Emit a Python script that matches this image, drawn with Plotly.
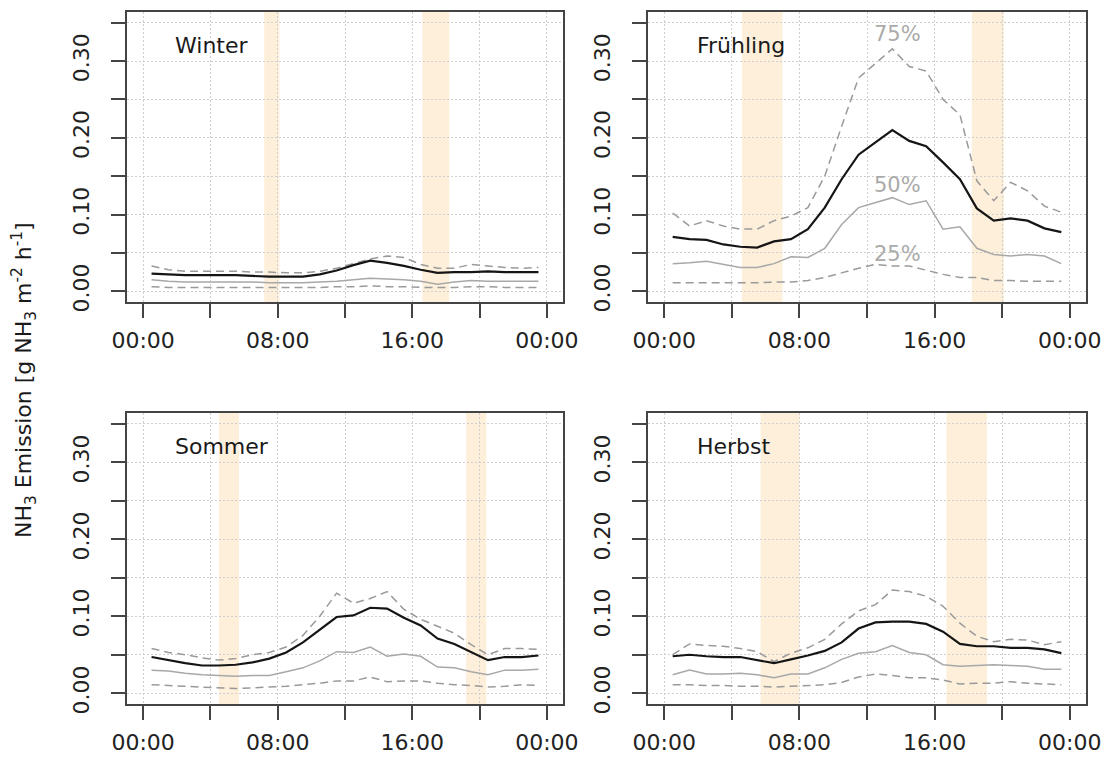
import plotly.graph_objects as go

# Hour of day (centre of each hourly interval)
hours = [0.5, 1.5, 2.5, 3.5, 4.5, 5.5, 6.5, 7.5, 8.5, 9.5, 10.5, 11.5,
         12.5, 13.5, 14.5, 15.5, 16.5, 17.5, 18.5, 19.5, 20.5, 21.5, 22.5, 23.5]

seasons = ["Winter", "Frühling", "Sommer", "Herbst"]

# NH3 emission [g NH3 m-2 h-1]: mean, 25 %, 50 % and 75 % quantiles per hour
winter_mean = [0.023, 0.022, 0.021, 0.021, 0.021, 0.021, 0.020, 0.019, 0.019, 0.019, 0.022, 0.027,
               0.034, 0.040, 0.037, 0.033, 0.028, 0.024, 0.025, 0.025, 0.026, 0.025, 0.025, 0.025]
winter_q50 = [0.015, 0.013, 0.012, 0.012, 0.012, 0.012, 0.012, 0.011, 0.011, 0.011, 0.012, 0.013,
              0.015, 0.017, 0.016, 0.015, 0.013, 0.009, 0.012, 0.014, 0.013, 0.013, 0.013, 0.013]
winter_q75 = [0.033, 0.028, 0.026, 0.026, 0.026, 0.026, 0.025, 0.025, 0.024, 0.024, 0.026, 0.030,
              0.036, 0.042, 0.046, 0.044, 0.035, 0.030, 0.030, 0.035, 0.033, 0.031, 0.030, 0.031]
winter_q25 = [0.006, 0.005, 0.005, 0.005, 0.005, 0.005, 0.005, 0.005, 0.005, 0.005, 0.005, 0.006,
              0.006, 0.007, 0.006, 0.006, 0.005, 0.005, 0.005, 0.006, 0.006, 0.005, 0.005, 0.005]

spring_mean = [0.071, 0.068, 0.067, 0.061, 0.058, 0.057, 0.065, 0.068, 0.081, 0.109, 0.146, 0.178,
               0.194, 0.210, 0.196, 0.189, 0.168, 0.146, 0.108, 0.092, 0.095, 0.092, 0.082, 0.077]
spring_q50 = [0.036, 0.037, 0.039, 0.035, 0.031, 0.031, 0.036, 0.045, 0.044, 0.056, 0.087, 0.109,
              0.115, 0.122, 0.113, 0.118, 0.081, 0.084, 0.056, 0.048, 0.046, 0.048, 0.046, 0.036]
spring_q75 = [0.102, 0.085, 0.092, 0.085, 0.081, 0.081, 0.092, 0.098, 0.109, 0.150, 0.215, 0.278,
              0.297, 0.316, 0.293, 0.287, 0.250, 0.230, 0.144, 0.118, 0.142, 0.131, 0.111, 0.103]
spring_q25 = [0.011, 0.011, 0.011, 0.011, 0.011, 0.011, 0.012, 0.012, 0.014, 0.018, 0.024, 0.030,
              0.035, 0.033, 0.033, 0.028, 0.022, 0.018, 0.018, 0.014, 0.014, 0.013, 0.013, 0.013]

summer_mean = [0.047, 0.043, 0.039, 0.036, 0.036, 0.037, 0.040, 0.045, 0.053, 0.066, 0.083, 0.099,
               0.101, 0.111, 0.110, 0.098, 0.088, 0.071, 0.064, 0.053, 0.043, 0.047, 0.047, 0.049]
summer_q50 = [0.030, 0.029, 0.026, 0.024, 0.023, 0.022, 0.023, 0.023, 0.028, 0.033, 0.042, 0.054,
              0.053, 0.060, 0.048, 0.051, 0.048, 0.034, 0.033, 0.028, 0.024, 0.030, 0.030, 0.031]
summer_q75 = [0.058, 0.053, 0.050, 0.046, 0.043, 0.045, 0.050, 0.053, 0.060, 0.075, 0.100, 0.130,
              0.117, 0.123, 0.132, 0.109, 0.096, 0.087, 0.078, 0.063, 0.050, 0.058, 0.058, 0.057]
summer_q25 = [0.011, 0.010, 0.009, 0.008, 0.007, 0.006, 0.007, 0.008, 0.009, 0.011, 0.013, 0.016,
              0.016, 0.021, 0.015, 0.016, 0.016, 0.013, 0.011, 0.010, 0.008, 0.009, 0.011, 0.010]

autumn_mean = [0.048, 0.050, 0.048, 0.047, 0.047, 0.043, 0.039, 0.044, 0.049, 0.055, 0.066, 0.084,
               0.092, 0.093, 0.093, 0.090, 0.080, 0.064, 0.061, 0.061, 0.059, 0.059, 0.057, 0.052]
autumn_q50 = [0.024, 0.030, 0.025, 0.025, 0.026, 0.024, 0.020, 0.025, 0.025, 0.033, 0.044, 0.052,
              0.054, 0.062, 0.053, 0.050, 0.037, 0.035, 0.036, 0.037, 0.036, 0.035, 0.031, 0.031]
autumn_q75 = [0.050, 0.064, 0.062, 0.061, 0.058, 0.054, 0.041, 0.052, 0.059, 0.070, 0.090, 0.107,
              0.115, 0.134, 0.132, 0.126, 0.113, 0.091, 0.074, 0.067, 0.070, 0.069, 0.063, 0.067]
autumn_q25 = [0.011, 0.011, 0.010, 0.010, 0.009, 0.009, 0.008, 0.009, 0.010, 0.011, 0.014, 0.021,
              0.025, 0.023, 0.020, 0.020, 0.017, 0.012, 0.013, 0.013, 0.015, 0.013, 0.012, 0.011]

# Sunrise / sunset periods (hours) per season
winter_sun = [(7.2, 8.1), (16.6, 18.2)]
spring_sun = [(4.6, 7.0), (18.2, 20.1)]
summer_sun = [(4.5, 5.7), (19.2, 20.4)]
autumn_sun = [(5.7, 8.0), (16.7, 19.1)]

# Axis ticks: labelled major ticks and unlabelled intermediate ticks
x_ticks = [0, 8, 16, 24]
x_labels = ["00:00", "08:00", "16:00", "00:00"]
x_minor = [4, 12, 20]
y_ticks = [0.00, 0.10, 0.20, 0.30]
y_labels = ["0.00", "0.10", "0.20", "0.30"]
y_minor = [0.05, 0.15, 0.25, 0.35]

# Quantile labels shown in the spring panel
q_label_text = ["75%", "50%", "25%"]
q_label_hour = [13.8, 13.8, 13.8]
q_label_value = [0.335, 0.139, 0.048]

series = {
    "Winter": (winter_mean, winter_q50, winter_q75, winter_q25, winter_sun),
    "Frühling": (spring_mean, spring_q50, spring_q75, spring_q25, spring_sun),
    "Sommer": (summer_mean, summer_q50, summer_q75, summer_q25, summer_sun),
    "Herbst": (autumn_mean, autumn_q50, autumn_q75, autumn_q25, autumn_sun),
}

W, H = 1108, 758
FONT = "DejaVu Sans"
# panel boxes in pixels: (left, right, top, bottom)
boxes = {
    "Winter": (127, 563, 12, 302),
    "Frühling": (648, 1086, 12, 302),
    "Sommer": (127, 563, 413, 704),
    "Herbst": (648, 1086, 413, 704),
}

fig = go.Figure()
layout = dict(
    width=W, height=H, margin=dict(l=0, r=0, t=0, b=0, autoexpand=False),
    paper_bgcolor="white", plot_bgcolor="white", showlegend=False,
    font=dict(family=FONT, color="#222222"),
    shapes=[], annotations=[],
)

x_range = [-0.96, 24.96]
y_range = [-0.014, 0.364]

GRID = dict(showgrid=True, gridcolor="#cfcfcf", gridwidth=1, griddash="2px,2px")
TICK = dict(ticks="outside", ticklen=14, tickwidth=1.6, tickcolor="#444444")

for i, name in enumerate(seasons):
    idx = "" if i == 0 else str(i + 1)
    xa, ya = "x" + idx, "y" + idx
    left, right, top, bottom = boxes[name]
    axis_common = dict(
        showline=True, mirror=True, linecolor="#444444", linewidth=1.6,
        zeroline=False, tickfont=dict(family=FONT, size=22, color="#222222"),
        fixedrange=True, automargin=False, **TICK, **GRID,
    )
    layout["xaxis" + idx] = dict(
        axis_common, domain=[left / W, right / W], range=x_range,
        tickmode="array", tickvals=x_ticks, ticktext=x_labels,
        minor=dict(tickmode="array", tickvals=x_minor, **TICK, **GRID),
        anchor=ya, ticklabelstandoff=4,
    )
    layout["yaxis" + idx] = dict(
        axis_common, domain=[1 - bottom / H, 1 - top / H], range=y_range,
        tickmode="array", tickvals=y_ticks, ticktext=y_labels,
        minor=dict(tickmode="array", tickvals=y_minor, **TICK, **GRID),
        tickangle=-90, anchor=xa, ticklabelstandoff=13,
    )

    mean, q50, q75, q25, sun = series[name]
    for (t0, t1) in sun:
        layout["shapes"].append(dict(
            type="rect", xref=xa, yref=ya, x0=t0, x1=t1,
            y0=y_range[0], y1=y_range[1], fillcolor="#fdefda",
            line=dict(width=0), layer="below",
        ))

    fig.add_trace(go.Scatter(x=hours, y=q25, mode="lines", xaxis=xa, yaxis=ya,
                             line=dict(color="#9a9a9a", width=1.5, dash="8px,5px"),
                             name="25%"))
    fig.add_trace(go.Scatter(x=hours, y=q75, mode="lines", xaxis=xa, yaxis=ya,
                             line=dict(color="#9a9a9a", width=1.5, dash="8px,5px"),
                             name="75%"))
    fig.add_trace(go.Scatter(x=hours, y=q50, mode="lines", xaxis=xa, yaxis=ya,
                             line=dict(color="#a8a8a8", width=1.5), name="50%"))
    fig.add_trace(go.Scatter(x=hours, y=mean, mode="lines", xaxis=xa, yaxis=ya,
                             line=dict(color="#151515", width=2.2), name="Mittelwert"))

    layout["annotations"].append(dict(
        text=name, xref=xa, yref=ya, x=1.8, y=0.32, xanchor="left", yanchor="middle",
        showarrow=False, font=dict(family=FONT, size=22, color="#1a1a1a"),
    ))

for txt, hx, vy in zip(q_label_text, q_label_hour, q_label_value):
    layout["annotations"].append(dict(
        text=txt, xref="x2", yref="y2", x=hx, y=vy, xanchor="center", yanchor="middle",
        showarrow=False, font=dict(family=FONT, size=21, color="#aaaaaa"),
    ))

layout["annotations"].append(dict(
    text="NH<sub>3</sub> Emission [g NH<sub>3</sub> m<sup>-2</sup> h<sup>-1</sup>]",
    xref="paper", yref="paper", x=24 / W, y=1 - 380 / H, xanchor="center", yanchor="middle",
    textangle=-90, showarrow=False, font=dict(family=FONT, size=22, color="#1a1a1a"),
))

fig.update_layout(**layout)
fig.write_html("out.html")
